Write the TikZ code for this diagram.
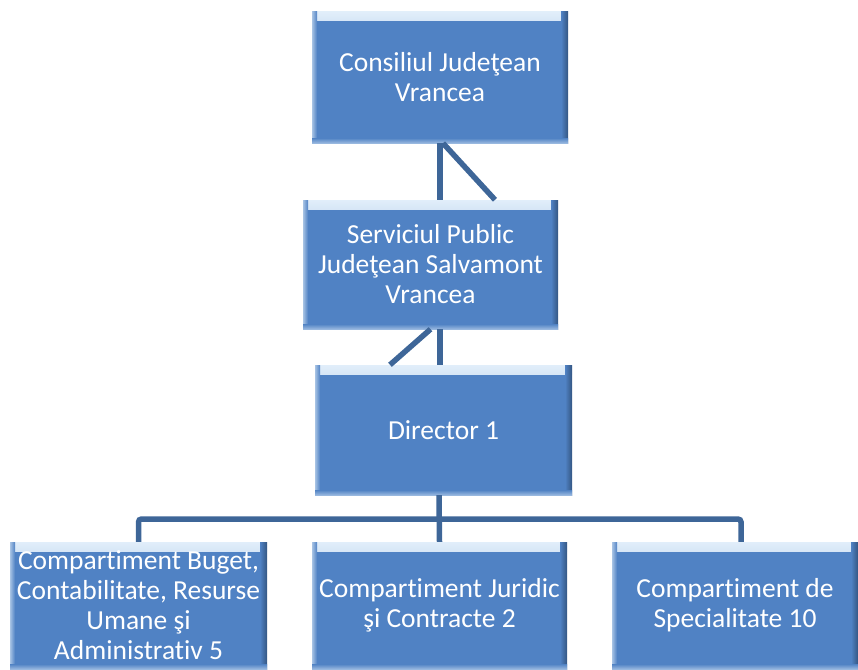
\documentclass[tikz,border=0pt]{standalone}
\usepackage{fontspec}
\setmainfont[RawFeature=-liga]{Carlito}
\usetikzlibrary{calc}
\definecolor{boxblue}{RGB}{80,130,196}
\definecolor{boxdark}{RGB}{52,86,130}
\definecolor{boxlight}{RGB}{225,238,250}
\definecolor{linkblue}{RGB}{62,102,152}
\tikzset{
  orgbox/.style={rectangle, inner sep=0pt, fill=boxblue, text=white, align=center,
    font=\fontsize{27.5}{30}\selectfont,
    path picture={
      \fill[top color=boxlight, bottom color=boxblue]
        (path picture bounding box.north west) rectangle ([yshift=-9pt]path picture bounding box.north east);
      \fill[left color=boxblue, right color=boxdark]
        ([xshift=-7pt]path picture bounding box.north east) rectangle (path picture bounding box.south east);
      \fill[right color=boxblue, left color=boxlight!60!boxblue]
        (path picture bounding box.north west) rectangle ([xshift=5pt]path picture bounding box.south west);
      \fill[bottom color=boxlight!50!boxblue, top color=boxblue]
        ([yshift=5pt]path picture bounding box.south west) rectangle (path picture bounding box.south east);
    }},
  link/.style={draw=linkblue, line width=5.5pt}
}
\begin{document}
\begin{tikzpicture}[x=1pt,y=-1pt]
\useasboundingbox (0,0) rectangle (858,669);
\node[orgbox, minimum width=256pt, minimum height=131pt] (cj) at (440,77.5) {Consiliul Judeţean\\Vrancea};
\node[orgbox, minimum width=255pt, minimum height=129pt] (sp) at (430.5,264.5) {Serviciul Public\\Judeţean Salvamont\\Vrancea};
\node[orgbox, minimum width=257pt, minimum height=130pt] (dir) at (443.5,430) {Director 1};
\node[orgbox, minimum width=257pt, minimum height=127pt] (cb) at (138.5,605.5) {Compartiment Buget,\\Contabilitate, Resurse\\Umane şi\\Administrativ 5};
\node[orgbox, minimum width=255pt, minimum height=127pt] (cjc) at (439.5,605.5) {Compartiment Juridic\\şi Contracte 2};
\node[orgbox, minimum width=246pt, minimum height=127pt] (cs) at (735,605.5) {Compartiment de\\Specialitate 10};
\coordinate (bus) at (440,519);
\draw[link] (cj.south) -- (cj.south |- sp.north);
\draw[link] ([xshift=3pt]cj.south) -- ([xshift=64.5pt]sp.north);
\draw[link] ([xshift=9.5pt]sp.south) -- ([xshift=-3.5pt]dir.north);
\draw[link] (sp.south) -- ([xshift=-53.5pt]dir.north);
\draw[link] ([xshift=-4.5pt]dir.south) -- (cjc.north);
\draw[link, rounded corners=3pt] (cb.north) |- (bus) -| ([xshift=6pt]cs.north);
\end{tikzpicture}
\end{document}
